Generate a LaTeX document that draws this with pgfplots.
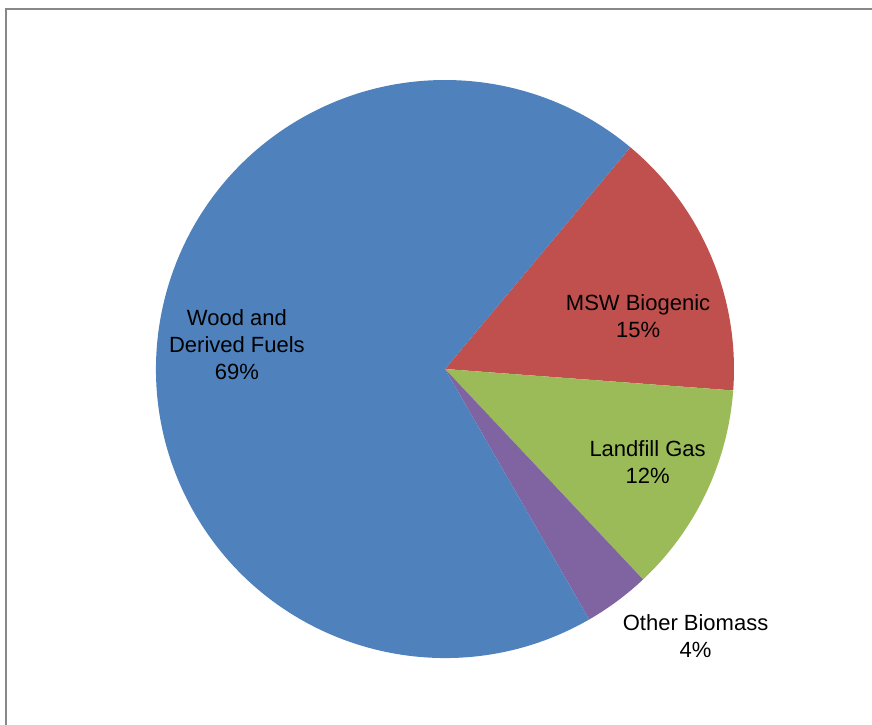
\documentclass[border=0pt]{standalone}
\usepackage{fontspec}
\setmainfont{Liberation Sans}
\usepackage{pgfplots}
\pgfplotsset{compat=1.18}

\definecolor{woodblue}{HTML}{4F81BD}
\definecolor{mswred}{HTML}{C0504D}
\definecolor{lfgreen}{HTML}{9BBB59}
\definecolor{obpurple}{HTML}{8064A2}
\definecolor{framegray}{HTML}{888888}

\begin{document}
\begin{tikzpicture}
\useasboundingbox (0pt,0pt) rectangle (436pt,362pt);
\clip (0pt,0pt) rectangle (436pt,362pt);
\draw[framegray, line width=1pt] (3pt,-15pt) rectangle (450pt,357.25pt);

\begin{axis}[
  at={(222.5pt,177.5pt)}, anchor=center,
  hide axis, clip=false,
  scale only axis, width=289pt, height=289pt,
  xmin=-1, xmax=1, ymin=-1, ymax=1,
]
% slices clockwise, first one starting at 50.1 degrees
\xdef\angA{50.1}
\foreach \val/\col in {15.1/mswred, 11.8/lfgreen, 3.7/obpurple, 69.4/woodblue}{
  \pgfmathsetmacro\angB{\angA-3.6*\val}
  \edef\slice{\noexpand\fill[\col] (axis cs:0,0) -- (axis cs:{cos(\angA)},{sin(\angA)})
    arc[start angle=\angA, end angle=\angB, radius=144.5pt] -- cycle;}
  \slice
  \xdef\angA{\angB}
}

\begin{scope}[every node/.style={align=center, font=\fontsize{11pt}{13.5pt}\selectfont}]
\node at (axis cs:-0.720,0.083) {Wood and\\Derived Fuels\\69\%};
\node at (axis cs:0.668,0.183) {MSW Biogenic\\15\%};
\node at (axis cs:0.701,-0.322) {Landfill Gas\\12\%};
\node at (axis cs:0.867,-0.924) {Other Biomass\\4\%};
\end{scope}
\end{axis}
\end{tikzpicture}
\end{document}
